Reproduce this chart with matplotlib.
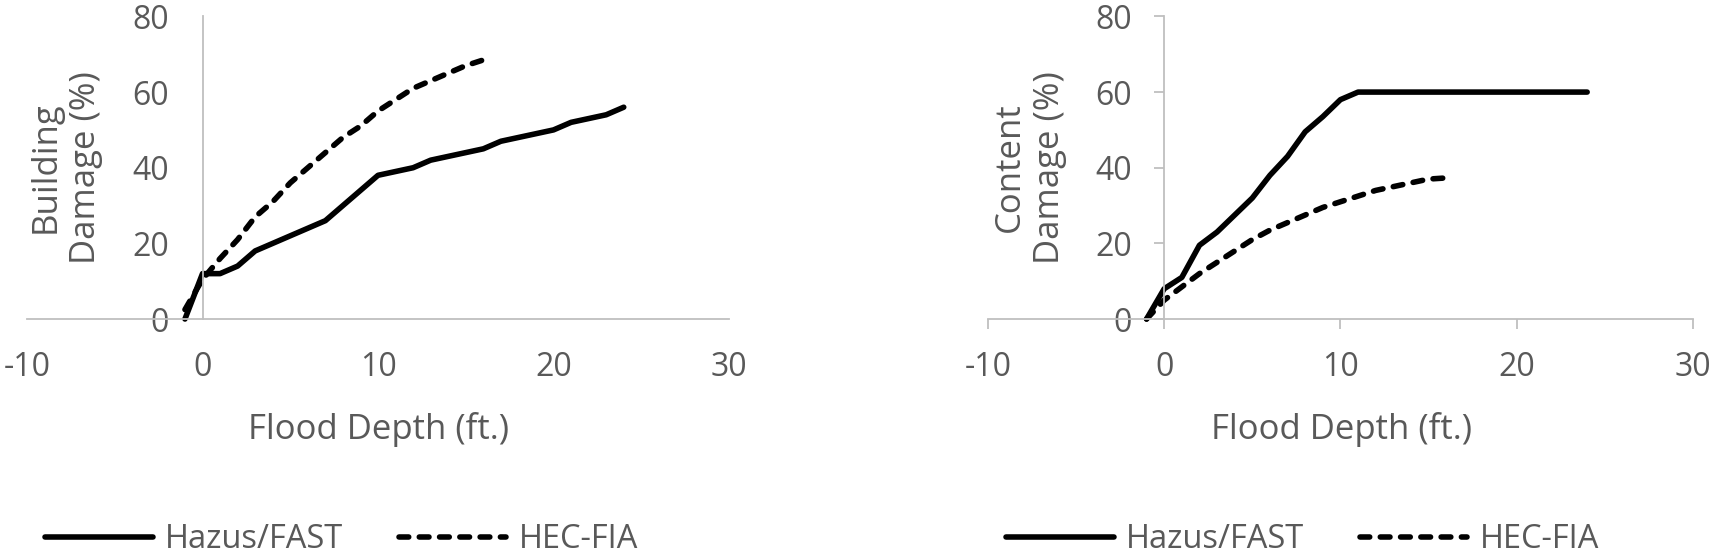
import matplotlib
matplotlib.use("Agg")
import matplotlib.pyplot as plt

plt.rcParams['font.family'] = ['Open Sans', 'DejaVu Sans']
plt.rcParams['axes.unicode_minus'] = False

# Building damage curves (depth in ft, damage in %)
hazus_bldg_depth = [-1, 0, 1, 2, 3, 4, 5, 6, 7, 8, 9, 10, 11, 12, 13, 14, 15, 16, 17, 18, 19, 20, 21, 22, 23, 24]
hazus_bldg_dmg = [0, 12, 12, 14, 18, 20, 22, 24, 26, 30, 34, 38, 39, 40, 42, 43, 44, 45, 47, 48, 49, 50, 52, 53, 54, 56]
hec_bldg_depth = [-1, 0, 1, 2, 3, 4, 5, 6, 7, 8, 9, 10, 11, 12, 13, 14, 15, 16]
hec_bldg_dmg = [2.5, 10.5, 16, 21, 27, 31, 36, 40, 44, 48, 51, 55, 58, 61, 63, 65, 67, 68.5]

# Content damage curves
hazus_cont_depth = [-1, 0, 1, 2, 3, 4, 5, 6, 7, 8, 9, 10, 11, 12, 13, 14, 15, 16, 17, 18, 19, 20, 21, 22, 23, 24]
hazus_cont_dmg = [0, 8, 11, 19.5, 23, 27.5, 32, 38, 43, 49.5, 53.5, 58, 60, 60, 60, 60, 60, 60, 60, 60, 60, 60, 60, 60, 60, 60]
hec_cont_depth = [-1, 0, 1, 2, 3, 4, 5, 6, 7, 8, 9, 10, 11, 12, 13, 14, 15, 16]
hec_cont_dmg = [0, 5, 8.5, 12, 15, 18, 21, 23.5, 25.5, 27.5, 29.5, 31, 32.5, 34, 35, 36, 37, 37.3]

x_ticks = [-10, 0, 10, 20, 30]
y_ticks = [0, 20, 40, 60, 80]
series_names = ["Hazus/FAST", "HEC-FIA"]
panel_ylabels = ["Building\nDamage (%)", "Content\nDamage (%)"]
xlabel = "Flood Depth (ft.)"

GRAY = '#595959'
AXC = '#bfbfbf'
FS = 23
LFS = 23.5
TFS = 25
LW = 4.0

fig = plt.figure(figsize=(17.14, 5.59), dpi=100)
ax1 = fig.add_axes([0.01575, 0.4293, 0.4096, 0.5413])
ax2 = fig.add_axes([0.5764, 0.4293, 0.4113, 0.5413])

panels = [
    (ax1, hazus_bldg_depth, hazus_bldg_dmg, hec_bldg_depth, hec_bldg_dmg),
    (ax2, hazus_cont_depth, hazus_cont_dmg, hec_cont_depth, hec_cont_dmg),
]

for ax, hx, hy, ex, ey in panels:
    ax.plot(hx, hy, color='black', lw=LW, solid_capstyle='round',
            solid_joinstyle='round', clip_on=False, label=series_names[0])
    ax.plot(ex, ey, color='black', lw=LW, linestyle=(0, (1.75, 1.9)),
            dash_capstyle='round', clip_on=False, label=series_names[1])
    ax.set_xlim(-10, 30)
    ax.set_ylim(0, 80)
    ax.set_xticks(x_ticks)
    ax.set_yticks(y_ticks)
    for s in ['top', 'right']:
        ax.spines[s].set_visible(False)
    ax.spines['left'].set_position(('data', 0))
    for s in ['left', 'bottom']:
        ax.spines[s].set_color(AXC)
        ax.spines[s].set_linewidth(1.3)
    ax.patch.set_visible(False)

# left panel has no tick marks, right panel has outside ticks
ax1.tick_params(axis='x', length=0, labelsize=FS, labelcolor=GRAY, pad=23)
ax1.tick_params(axis='y', length=0, labelsize=FS, labelcolor=GRAY, pad=24)
ax2.tick_params(axis='x', direction='out', length=7, width=1.3, color=AXC,
                labelsize=FS, labelcolor=GRAY, pad=16)
ax2.tick_params(axis='y', direction='out', length=7, width=1.3, color=AXC,
                labelsize=FS, labelcolor=GRAY, pad=16)

for xc, lab in [(0.0385, panel_ylabels[0]), (0.601, panel_ylabels[1])]:
    fig.text(xc, 0.701, lab, rotation=90, ha='center', va='center',
             multialignment='center', fontsize=TFS, color=GRAY, linespacing=1.25)
fig.text(0.2211, 0.231, xlabel, ha='center', va='center', fontsize=TFS, color=GRAY)
fig.text(0.7824, 0.231, xlabel, ha='center', va='center', fontsize=TFS, color=GRAY)

for ax, x0 in [(ax1, 0.0263), (ax2, 0.587)]:
    leg = ax.legend(loc='center left', bbox_to_anchor=(x0, 0.034),
                    bbox_transform=fig.transFigure, ncol=2, frameon=False,
                    fontsize=LFS, handlelength=3.3, handletextpad=0.37,
                    columnspacing=1.7, borderpad=0, borderaxespad=0)
    for t in leg.get_texts():
        t.set_color(GRAY)

fig.savefig('out.png', dpi=100)
